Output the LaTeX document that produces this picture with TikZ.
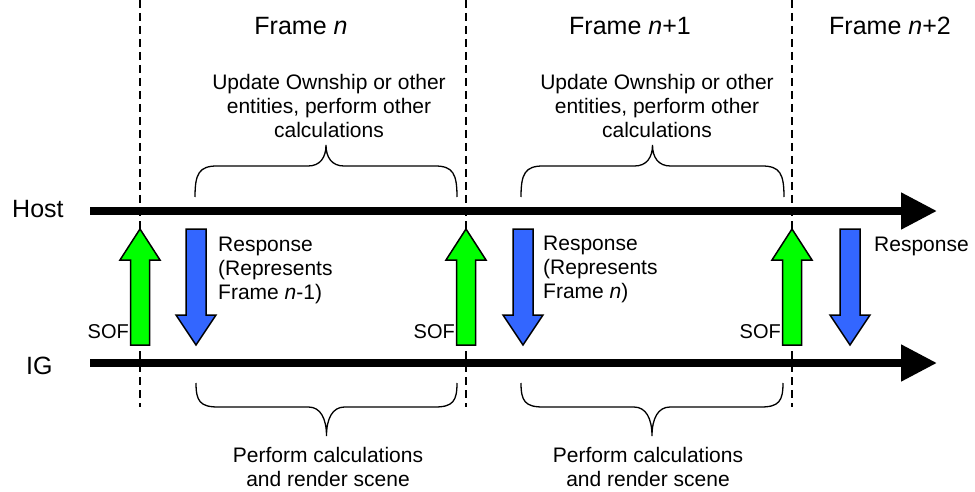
\documentclass[tikz,border=0pt]{standalone}
\usepackage{fontspec}
\setmainfont{Liberation Sans}
\usetikzlibrary{arrows.meta}
\definecolor{sofgreen}{RGB}{0,255,0}
\definecolor{respblue}{RGB}{51,102,255}

% curly brace: left x, right x, y of the ends, y of the long flat parts, y of the tip
\newcommand{\timebrace}[5]{%
  \pgfmathsetmacro\bxc{(#1+#2)/2}%
  \draw[bracestyle] (#1,#3) .. controls (#1,{#3+0.75*(#4-#3)}) and ({#1+4},#4) .. ({#1+22},#4)
    -- ({\bxc-18},#4) .. controls ({\bxc-6},#4) and (\bxc,{#4+0.4*(#5-#4)}) .. (\bxc,#5)
    .. controls (\bxc,{#4+0.4*(#5-#4)}) and ({\bxc+6},#4) .. ({\bxc+18},#4)
    -- ({#2-22},#4) .. controls ({#2-4},#4) and (#2,{#3+0.75*(#4-#3)}) .. (#2,#3);%
}

\begin{document}
\begin{tikzpicture}[x=1pt,y=-1pt,
  timeline/.style={line width=8pt,-{Triangle[length=36pt,width=35pt]}},
  framesep/.style={line width=1.5pt,dash pattern=on 8pt off 5pt},
  bracestyle/.style={line width=1.3pt},
  arrowbody/.style={line width=1.5pt,draw=black,line join=miter},
  title/.style={font=\fontsize{25}{28}\selectfont,inner sep=0pt},
  body/.style={font=\fontsize{21}{24}\selectfont,inner sep=0pt},
  soflbl/.style={font=\fontsize{20}{24}\selectfont,inner sep=0pt,anchor=base east},
  sofarrow/.pic={\filldraw[arrowbody,fill=sofgreen]
    (0,0) -- (20,31) -- (9.5,31) -- (9.5,116) -- (-9.5,116) -- (-9.5,31) -- (-20,31) -- cycle;},
  resparrow/.pic={\filldraw[arrowbody,fill=respblue]
    (-10,0) -- (10,0) -- (10,86) -- (20,86) -- (0,116) -- (-20,86) -- (-10,86) -- cycle;}
]
\useasboundingbox (0,0) rectangle (975,492);

% frame boundaries
\foreach \n/\x in {a/140,b/466,c/792}{
  \coordinate (sep\n top) at (\x,0);
  \coordinate (sep\n bot) at (\x,407);
  \draw[framesep] (sep\n top) -- (sep\n bot);
}

% time lines
\coordinate (hostL) at (90,211);
\coordinate (hostR) at (937,211);
\coordinate (igL) at (90,363);
\coordinate (igR) at (937,363);
\draw[timeline] (hostL) -- (hostR);
\draw[timeline] (igL) -- (igR);

\node[title,anchor=west] (host) at (12,209) {Host};
\node[title,anchor=west] (ig) at (26,366) {IG};

% frame titles
\node[title,anchor=base] (fn)  at (301,35) {Frame \textit{n}};
\node[title,anchor=base] (fn1) at (630,35) {Frame \textit{n}+1};
\node[title,anchor=base] (fn2) at (890,35) {Frame \textit{n}+2};

% start-of-frame arrows (IG to host)
\pic (sofa) at (140,229) {sofarrow};
\pic (sofb) at (466,229) {sofarrow};
\pic (sofc) at (792,229) {sofarrow};
\node[soflbl] (sofla) at (129,338) {SOF};
\node[soflbl] (soflb) at (455,338) {SOF};
\node[soflbl] (soflc) at (781,338) {SOF};

% response arrows (host to IG)
\pic (respa) at (196,229) {resparrow};
\pic (respb) at (523,229) {resparrow};
\pic (respc) at (850,229) {resparrow};
\node[body,anchor=north west,align=left] (respla) at (218,237)
  {Response\\(Represents\\Frame \textit{n}-1)};
\node[body,anchor=north west,align=left] (resplb) at (543,236)
  {Response\\(Represents\\Frame \textit{n})};
\node[body,anchor=base west] (resplc) at (874,251) {Response};

% host work per frame
\timebrace{195}{457}{197}{166}{145}
\timebrace{521}{784}{197}{166}{145}
\node[body,anchor=north,align=center] (hostwa) at (329,74)
  {Update Ownship or other\\entities, perform other\\calculations};
\node[body,anchor=north,align=center] (hostwb) at (657,74)
  {Update Ownship or other\\entities, perform other\\calculations};

% IG work per frame
\timebrace{196}{457}{383}{407}{436}
\timebrace{521}{783}{383}{407}{436}
\node[body,anchor=north,align=center] (igwa) at (328,447)
  {Perform calculations\\and render scene};
\node[body,anchor=north,align=center] (igwb) at (648,447)
  {Perform calculations\\and render scene};
\end{tikzpicture}
\end{document}
